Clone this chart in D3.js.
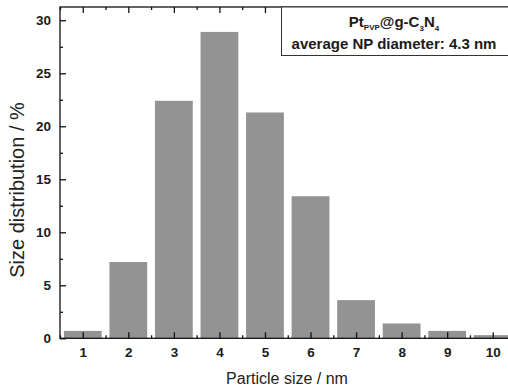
<!DOCTYPE html>
<html>
<head>
<meta charset="utf-8">
<script src="https://cdn.jsdelivr.net/npm/d3@7/dist/d3.min.js"></script>
<style>
  html, body { margin: 0; padding: 0; background: #fff; }
  svg { display: block; font-family: "Liberation Sans", Arial, sans-serif; }
</style>
</head>
<body>
<svg id="chart" width="508" height="388"></svg>
<script>
// Particle size histogram data
const sizes = [1, 2, 3, 4, 5, 6, 7, 8, 9, 10];
const distribution = [0.7, 7.2, 22.4, 28.9, 21.3, 13.4, 3.6, 1.4, 0.7, 0.3];
const yTicks = [0, 5, 10, 15, 20, 25, 30];
const yMinorTicks = [2.5, 7.5, 12.5, 17.5, 22.5, 27.5];
const xMinorTicks = [0.5, 1.5, 2.5, 3.5, 4.5, 5.5, 6.5, 7.5, 8.5, 9.5, 10.5];

const svg = d3.select("#chart");
const plotL = 60, plotR = 515.5, plotT = 7, plotB = 338.3;

const x = d3.scaleLinear().domain([0.5, 10.5]).range([plotL, plotR]);
const y = d3.scaleLinear().domain([0, 31.25]).range([plotB, plotT]);
const barW = 0.83;

// bars
svg.append("g")
  .selectAll("rect")
  .data(sizes)
  .join("rect")
  .attr("x", (d) => x(d - barW / 2))
  .attr("width", (d) => x(d + barW / 2) - x(d - barW / 2))
  .attr("y", (d, i) => y(distribution[i]))
  .attr("height", (d, i) => y(0) - y(distribution[i]))
  .attr("fill", "#939393");

// axes with inward ticks
function styleAxis(g) {
  g.select(".domain").remove();
  g.selectAll(".tick line").attr("stroke", "#111").attr("stroke-width", 1.3);
}
function styleLabels(g) {
  g.selectAll("text")
    .attr("font-size", 13.5).attr("font-weight", "bold").attr("fill", "#1a1a1a")
    .attr("font-family", "Liberation Sans, Arial, sans-serif");
}

svg.append("g")
  .attr("transform", `translate(0,${plotB})`)
  .call(d3.axisBottom(x).tickValues(sizes).tickSize(-6).tickPadding(9).tickFormat(d3.format("d")))
  .call(styleAxis)
  .call(styleLabels);

svg.append("g")
  .attr("transform", `translate(0,${plotB})`)
  .call(d3.axisBottom(x).tickValues(xMinorTicks).tickSize(-3).tickFormat(""))
  .call(styleAxis);

svg.append("g")
  .attr("transform", `translate(0,${plotT})`)
  .call(d3.axisTop(x).tickValues(sizes).tickSize(-6).tickFormat(""))
  .call(styleAxis);

svg.append("g")
  .attr("transform", `translate(0,${plotT})`)
  .call(d3.axisTop(x).tickValues(xMinorTicks).tickSize(-3).tickFormat(""))
  .call(styleAxis);

svg.append("g")
  .attr("transform", `translate(${plotL},0)`)
  .call(d3.axisLeft(y).tickValues(yTicks).tickSize(-6).tickPadding(9).tickFormat(d3.format("d")))
  .call(styleAxis)
  .call(styleLabels);

svg.append("g")
  .attr("transform", `translate(${plotL},0)`)
  .call(d3.axisLeft(y).tickValues(yMinorTicks).tickSize(-3).tickFormat(""))
  .call(styleAxis);

// frame
svg.append("rect")
  .attr("x", plotL).attr("y", plotT)
  .attr("width", plotR - plotL).attr("height", plotB - plotT)
  .attr("fill", "none").attr("stroke", "#111").attr("stroke-width", 1.3);

// legend box
const legX = 281.5, legBottom = 55.5;
svg.append("rect")
  .attr("x", legX).attr("y", plotT)
  .attr("width", plotR - legX).attr("height", legBottom - plotT)
  .attr("fill", "#fff").attr("stroke", "#333").attr("stroke-width", 1);

const legCx = 394;
const t1 = svg.append("text")
  .attr("x", legCx).attr("y", 27)
  .attr("text-anchor", "middle")
  .attr("font-size", 15).attr("font-weight", "bold").attr("fill", "#1a1a1a");
t1.append("tspan").text("Pt");
t1.append("tspan").attr("font-size", 8).attr("dy", 3).text("PVP");
t1.append("tspan").attr("dy", -3).text("@g-C");
t1.append("tspan").attr("font-size", 8).attr("dy", 4).text("3");
t1.append("tspan").attr("dy", -4).text("N");
t1.append("tspan").attr("font-size", 8).attr("dy", 4).text("4");

svg.append("text")
  .attr("x", legCx).attr("y", 49)
  .attr("text-anchor", "middle")
  .attr("font-size", 15).attr("font-weight", "bold").attr("fill", "#1a1a1a")
  .text("average NP diameter: 4.3 nm");

// axis titles
svg.append("text")
  .attr("x", 287).attr("y", 384)
  .attr("text-anchor", "middle")
  .attr("font-size", 16).attr("fill", "#222")
  .text("Particle size / nm");

svg.append("text")
  .attr("transform", "translate(24,190) rotate(-90)")
  .attr("text-anchor", "middle")
  .attr("font-size", 20).attr("fill", "#222")
  .text("Size distribution / %");
</script>
</body>
</html>
